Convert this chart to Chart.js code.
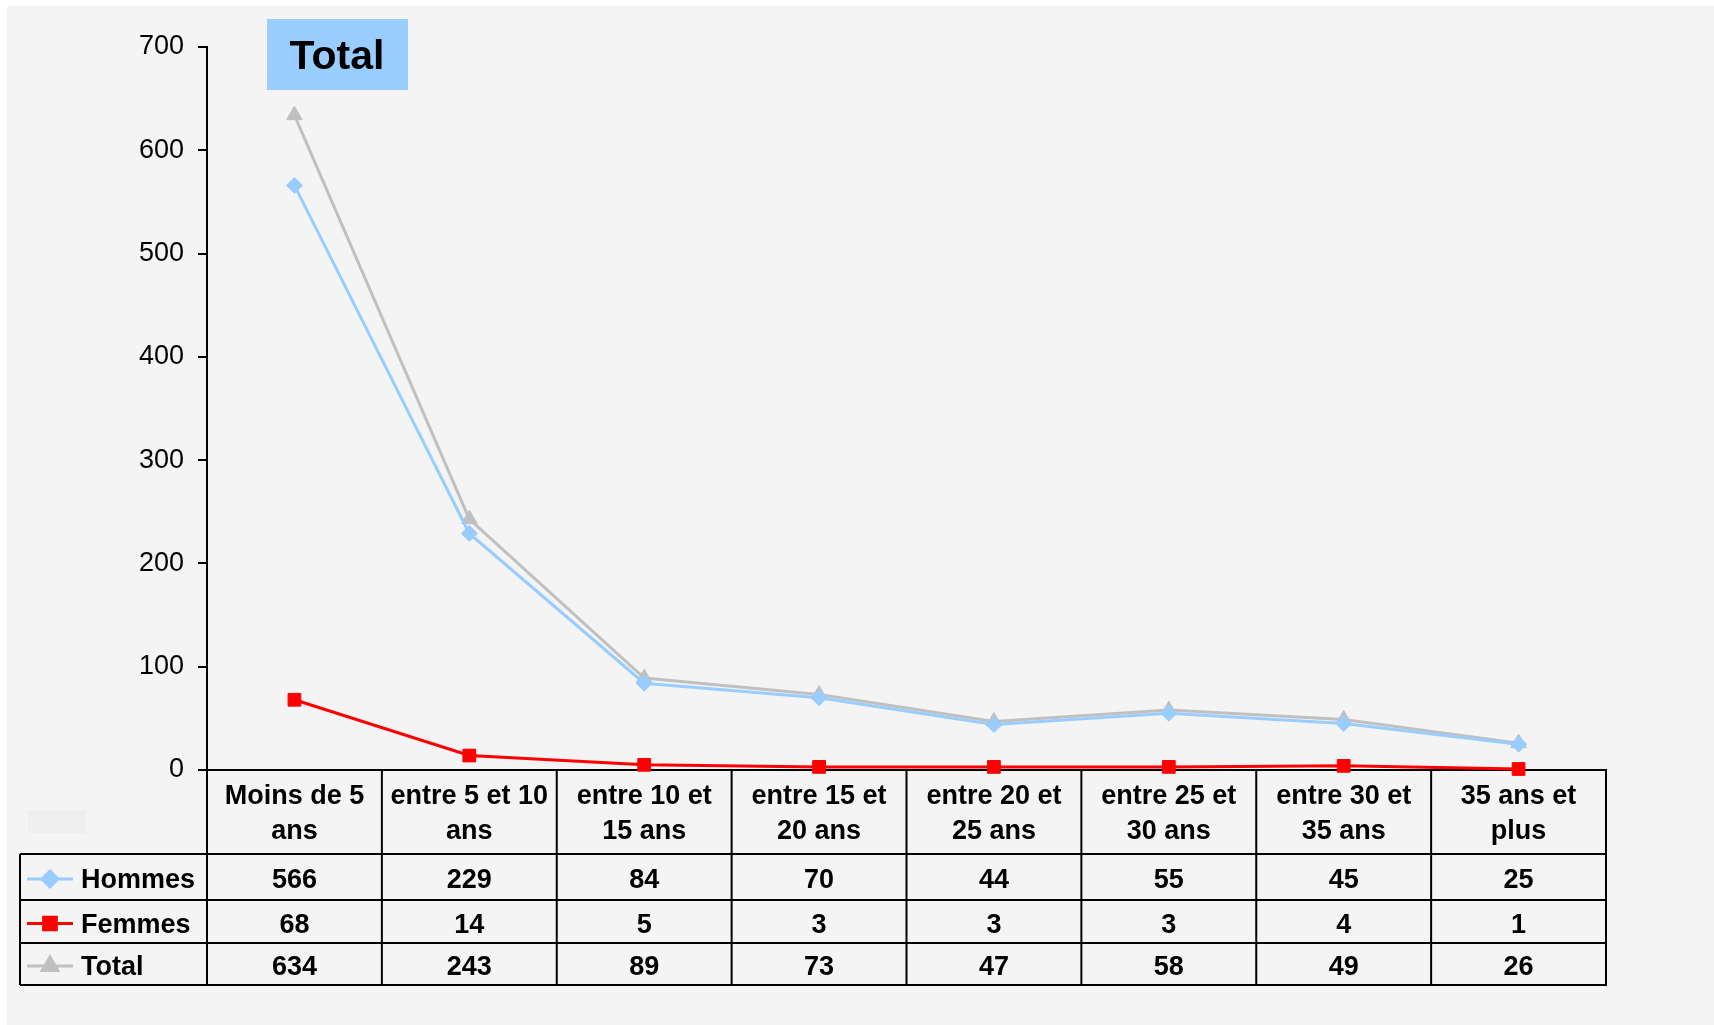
<!DOCTYPE html>
<html>
<head>
<meta charset="utf-8">
<script src="https://cdn.jsdelivr.net/npm/chart.js@4.4.0/dist/chart.umd.min.js"></script>
<style>
  html, body { margin: 0; padding: 0; background: #ffffff; }
  canvas { display: block; }
</style>
</head>
<body>
<canvas id="myChart" width="1714" height="1025"></canvas>
<script>
// categories (each one split on two lines in the table header)
const categories = [
    ['Moins de 5', 'ans'],
    ['entre 5 et 10', 'ans'],
    ['entre 10 et', '15 ans'],
    ['entre 15 et', '20 ans'],
    ['entre 20 et', '25 ans'],
    ['entre 25 et', '30 ans'],
    ['entre 30 et', '35 ans'],
    ['35 ans et', 'plus']
];
const hommes = [566, 229, 84, 70, 44, 55, 45, 25];
const femmes = [68, 14, 5, 3, 3, 3, 4, 1];
const total = [634, 243, 89, 73, 47, 58, 49, 26];
const yTicks = [0, 100, 200, 300, 400, 500, 600, 700];
const chartTitle = 'Total';

const FONT = "'Liberation Sans', Arial, sans-serif";

// grey background + title box
const backgroundPlugin = {
    id: 'background',
    beforeDraw(chart) {
        const ctx = chart.ctx;
        ctx.save();
        ctx.fillStyle = '#ffffff';
        ctx.fillRect(0, 0, chart.width, chart.height);
        ctx.fillStyle = '#f4f4f4';
        ctx.fillRect(7, 6, chart.width - 7, chart.height - 6);
        ctx.fillStyle = '#eeeeee';
        ctx.fillRect(28, 810, 58, 23);
        ctx.restore();
    },
    afterDraw(chart) {
        const ctx = chart.ctx;
        ctx.save();
        ctx.fillStyle = '#99ccff';
        ctx.fillRect(267, 19, 141, 71);
        ctx.fillStyle = '#000';
        ctx.font = 'bold 41px ' + FONT;
        ctx.textAlign = 'center';
        ctx.textBaseline = 'middle';
        ctx.fillText(chartTitle, 337, 58);
        ctx.restore();
    }
};

// data table under the plot (header with categories, one row per series)
const tablePlugin = {
    id: 'dataTable',
    beforeDatasetsDraw(chart) {
        const ctx = chart.ctx;
        const area = chart.chartArea;
        const xs = chart.scales.x;
        const n = categories.length;
        const colW = (area.right - area.left) / n;
        const top = area.bottom;
        const rows = [top + 84, top + 130, top + 173, top + 215];
        const tableLeft = 20;

        ctx.save();
        ctx.strokeStyle = '#000';
        ctx.lineWidth = 2;
        ctx.beginPath();
        // x axis line / top of header
        ctx.moveTo(area.left, top);
        ctx.lineTo(area.right + 1, top);
        rows.forEach(function(y) {
            ctx.moveTo(tableLeft, y);
            ctx.lineTo(area.right + 1, y);
        });
        for (let i = 0; i <= n; i++) {
            const x = area.left + i * colW;
            ctx.moveTo(x, top);
            ctx.lineTo(x, rows[3]);
        }
        ctx.moveTo(tableLeft, rows[0]);
        ctx.lineTo(tableLeft, rows[3]);
        ctx.stroke();

        ctx.fillStyle = '#000';
        ctx.font = 'bold 27px ' + FONT;
        ctx.textAlign = 'center';
        ctx.textBaseline = 'middle';
        categories.forEach(function(lines, i) {
            const x = xs.getPixelForValue(i);
            ctx.fillText(lines[0], x, top + 27);
            ctx.fillText(lines[1], x, top + 62);
        });

        chart.data.datasets.forEach(function(ds, r) {
            const yc = (rows[r] + rows[r + 1]) / 2 + 4;
            ctx.textAlign = 'center';
            ds.data.forEach(function(v, i) {
                ctx.fillText(String(v), xs.getPixelForValue(i), yc);
            });
            // legend key
            ctx.save();
            ctx.strokeStyle = ds.borderColor;
            ctx.lineWidth = 3;
            ctx.beginPath();
            ctx.moveTo(27, yc - 2);
            ctx.lineTo(73, yc - 2);
            ctx.stroke();
            Chart.helpers.drawPoint(ctx, {
                pointStyle: ds.pointStyle,
                radius: ds.pointRadius,
                borderWidth: 1
            }, 50, yc - 2);
            ctx.fillStyle = ds.backgroundColor;
            ctx.strokeStyle = ds.borderColor;
            ctx.fill();
            ctx.restore();
            ctx.textAlign = 'left';
            ctx.fillText(ds.label, 81, yc);
        });
        ctx.restore();
    }
};

const ctx = document.getElementById('myChart');
const chart = new Chart(ctx, {
    type: 'line',
    data: {
        labels: categories.map(function(c) { return c.join(' '); }),
        datasets: [{
            label: 'Hommes',
            data: hommes,
            borderColor: '#99ccff',
            backgroundColor: '#99ccff',
            borderWidth: 3,
            pointStyle: 'rectRot',
            pointRadius: 8,
            pointBorderWidth: 1,
            tension: 0,
            clip: false
        }, {
            label: 'Femmes',
            data: femmes,
            borderColor: '#ff0000',
            backgroundColor: '#ff0000',
            borderWidth: 3,
            pointStyle: 'rect',
            pointRadius: 9,
            pointBorderWidth: 1,
            tension: 0,
            clip: false
        }, {
            label: 'Total',
            data: total,
            borderColor: '#c0c0c0',
            backgroundColor: '#c0c0c0',
            borderWidth: 3,
            pointStyle: 'triangle',
            pointRadius: 9,
            pointBorderWidth: 1,
            tension: 0,
            clip: false
        }]
    },
    options: {
        responsive: false,
        animation: false,
        layout: {
            padding: { left: 0, top: 47, right: 108, bottom: 255 }
        },
        plugins: {
            legend: { display: false },
            title: { display: false },
            tooltip: { enabled: false }
        },
        scales: {
            x: {
                type: 'category',
                display: false,
                offset: true
            },
            y: {
                min: 0,
                max: 700,
                afterFit(scale) { scale.width = 207; },
                afterBuildTicks(scale) {
                    scale.ticks = yTicks.map(function(v) { return { value: v }; });
                },
                border: { display: true, color: '#000', width: 2 },
                grid: {
                    drawOnChartArea: false,
                    drawTicks: true,
                    tickLength: 9,
                    color: '#000',
                    lineWidth: 2
                },
                ticks: {
                    color: '#000',
                    padding: 14,
                    font: { family: FONT, size: 27 }
                }
            }
        }
    },
    plugins: [backgroundPlugin, tablePlugin]
});
</script>
</body>
</html>
